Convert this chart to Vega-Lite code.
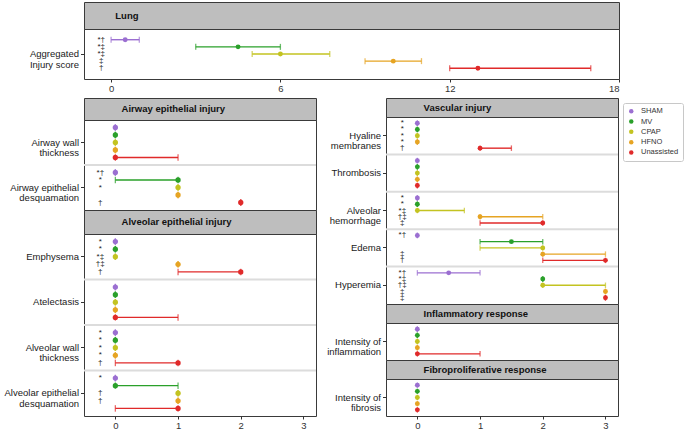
{
  "$schema": "https://vega.github.io/schema/vega-lite/v6.json",
  "padding": {"left": 3, "top": 1, "right": 2, "bottom": 0},
  "spacing": 3,
  "resolve": {"scale": {"yOffset": "independent"}},
  "datasets": {
    "lung": [
      {"item": "Aggregated|Injury score", "group": "SHAM", "mid": 0.5, "lo": 0, "hi": 1, "ann": "*†"},
      {"item": "Aggregated|Injury score", "group": "MV", "mid": 4.5, "lo": 3, "hi": 6, "ann": "*‡"},
      {"item": "Aggregated|Injury score", "group": "CPAP", "mid": 6, "lo": 5, "hi": 7.75, "ann": "*‡"},
      {"item": "Aggregated|Injury score", "group": "HFNO", "mid": 10, "lo": 9, "hi": 11, "ann": "‡"},
      {"item": "Aggregated|Injury score", "group": "Unassisted", "mid": 13, "lo": 12, "hi": 17, "ann": "†"}
    ],
    "airway": [
      {"item": "Airway wall|thickness", "group": "SHAM", "mid": 0, "lo": 0, "hi": 0, "ann": ""},
      {"item": "Airway wall|thickness", "group": "MV", "mid": 0, "lo": 0, "hi": 0, "ann": ""},
      {"item": "Airway wall|thickness", "group": "CPAP", "mid": 0, "lo": 0, "hi": 0, "ann": ""},
      {"item": "Airway wall|thickness", "group": "HFNO", "mid": 0, "lo": 0, "hi": 0, "ann": ""},
      {"item": "Airway wall|thickness", "group": "Unassisted", "mid": 0, "lo": 0, "hi": 1, "ann": ""},
      {"item": "Airway epithelial|desquamation", "group": "SHAM", "mid": 0, "lo": 0, "hi": 0, "ann": "*†"},
      {"item": "Airway epithelial|desquamation", "group": "MV", "mid": 1, "lo": 0, "hi": 1, "ann": "*"},
      {"item": "Airway epithelial|desquamation", "group": "CPAP", "mid": 1, "lo": 1, "hi": 1, "ann": "*"},
      {"item": "Airway epithelial|desquamation", "group": "HFNO", "mid": 1, "lo": 1, "hi": 1, "ann": ""},
      {"item": "Airway epithelial|desquamation", "group": "Unassisted", "mid": 2, "lo": 2, "hi": 2, "ann": "†"}
    ],
    "alveolar": [
      {"item": "Emphysema", "group": "SHAM", "mid": 0, "lo": 0, "hi": 0, "ann": "*"},
      {"item": "Emphysema", "group": "MV", "mid": 0, "lo": 0, "hi": 0, "ann": "*"},
      {"item": "Emphysema", "group": "CPAP", "mid": 0, "lo": 0, "hi": 0, "ann": "*‡"},
      {"item": "Emphysema", "group": "HFNO", "mid": 1, "lo": 1, "hi": 1, "ann": "†‡"},
      {"item": "Emphysema", "group": "Unassisted", "mid": 2, "lo": 1, "hi": 2, "ann": "†"},
      {"item": "Atelectasis", "group": "SHAM", "mid": 0, "lo": 0, "hi": 0, "ann": ""},
      {"item": "Atelectasis", "group": "MV", "mid": 0, "lo": 0, "hi": 0, "ann": ""},
      {"item": "Atelectasis", "group": "CPAP", "mid": 0, "lo": 0, "hi": 0, "ann": ""},
      {"item": "Atelectasis", "group": "HFNO", "mid": 0, "lo": 0, "hi": 0, "ann": ""},
      {"item": "Atelectasis", "group": "Unassisted", "mid": 0, "lo": 0, "hi": 1, "ann": ""},
      {"item": "Alveolar wall|thickness", "group": "SHAM", "mid": 0, "lo": 0, "hi": 0, "ann": "*"},
      {"item": "Alveolar wall|thickness", "group": "MV", "mid": 0, "lo": 0, "hi": 0, "ann": "*"},
      {"item": "Alveolar wall|thickness", "group": "CPAP", "mid": 0, "lo": 0, "hi": 0, "ann": "*"},
      {"item": "Alveolar wall|thickness", "group": "HFNO", "mid": 0, "lo": 0, "hi": 0, "ann": "*"},
      {"item": "Alveolar wall|thickness", "group": "Unassisted", "mid": 1, "lo": 0, "hi": 1, "ann": "†"},
      {"item": "Alveolar epithelial|desquamation", "group": "SHAM", "mid": 0, "lo": 0, "hi": 0, "ann": "*"},
      {"item": "Alveolar epithelial|desquamation", "group": "MV", "mid": 0, "lo": 0, "hi": 1, "ann": ""},
      {"item": "Alveolar epithelial|desquamation", "group": "CPAP", "mid": 1, "lo": 1, "hi": 1, "ann": "†"},
      {"item": "Alveolar epithelial|desquamation", "group": "HFNO", "mid": 1, "lo": 1, "hi": 1, "ann": "†"},
      {"item": "Alveolar epithelial|desquamation", "group": "Unassisted", "mid": 1, "lo": 0, "hi": 1, "ann": ""}
    ],
    "vascular": [
      {"item": "Hyaline|membranes", "group": "SHAM", "mid": 0, "lo": 0, "hi": 0, "ann": "*"},
      {"item": "Hyaline|membranes", "group": "MV", "mid": 0, "lo": 0, "hi": 0, "ann": "*"},
      {"item": "Hyaline|membranes", "group": "CPAP", "mid": 0, "lo": 0, "hi": 0, "ann": "*"},
      {"item": "Hyaline|membranes", "group": "HFNO", "mid": 0, "lo": 0, "hi": 0, "ann": "*"},
      {"item": "Hyaline|membranes", "group": "Unassisted", "mid": 1, "lo": 1, "hi": 1.5, "ann": "†"},
      {"item": "Thrombosis", "group": "SHAM", "mid": 0, "lo": 0, "hi": 0, "ann": ""},
      {"item": "Thrombosis", "group": "MV", "mid": 0, "lo": 0, "hi": 0, "ann": ""},
      {"item": "Thrombosis", "group": "CPAP", "mid": 0, "lo": 0, "hi": 0, "ann": ""},
      {"item": "Thrombosis", "group": "HFNO", "mid": 0, "lo": 0, "hi": 0, "ann": ""},
      {"item": "Thrombosis", "group": "Unassisted", "mid": 0, "lo": 0, "hi": 0, "ann": ""},
      {"item": "Alveolar|hemorrhage", "group": "SHAM", "mid": 0, "lo": 0, "hi": 0, "ann": "*"},
      {"item": "Alveolar|hemorrhage", "group": "MV", "mid": 0, "lo": 0, "hi": 0, "ann": "*"},
      {"item": "Alveolar|hemorrhage", "group": "CPAP", "mid": 0, "lo": 0, "hi": 0.75, "ann": "*‡"},
      {"item": "Alveolar|hemorrhage", "group": "HFNO", "mid": 1, "lo": 1, "hi": 2, "ann": "†‡"},
      {"item": "Alveolar|hemorrhage", "group": "Unassisted", "mid": 2, "lo": 1, "hi": 2, "ann": "‡"},
      {"item": "Edema", "group": "SHAM", "mid": 0, "lo": 0, "hi": 0, "ann": "*†"},
      {"item": "Edema", "group": "MV", "mid": 1.5, "lo": 1, "hi": 2, "ann": ""},
      {"item": "Edema", "group": "CPAP", "mid": 2, "lo": 1, "hi": 2, "ann": ""},
      {"item": "Edema", "group": "HFNO", "mid": 2, "lo": 2, "hi": 3, "ann": "‡"},
      {"item": "Edema", "group": "Unassisted", "mid": 3, "lo": 2, "hi": 3, "ann": "†"},
      {"item": "Hyperemia", "group": "SHAM", "mid": 0.5, "lo": 0, "hi": 1, "ann": "*†"},
      {"item": "Hyperemia", "group": "MV", "mid": 2, "lo": 2, "hi": 2, "ann": "*‡"},
      {"item": "Hyperemia", "group": "CPAP", "mid": 2, "lo": 2, "hi": 3, "ann": "†‡"},
      {"item": "Hyperemia", "group": "HFNO", "mid": 3, "lo": 3, "hi": 3, "ann": "‡"},
      {"item": "Hyperemia", "group": "Unassisted", "mid": 3, "lo": 3, "hi": 3, "ann": "‡"}
    ],
    "inflam": [
      {"item": "Intensity of|inflammation", "group": "SHAM", "mid": 0, "lo": 0, "hi": 0, "ann": ""},
      {"item": "Intensity of|inflammation", "group": "MV", "mid": 0, "lo": 0, "hi": 0, "ann": ""},
      {"item": "Intensity of|inflammation", "group": "CPAP", "mid": 0, "lo": 0, "hi": 0, "ann": ""},
      {"item": "Intensity of|inflammation", "group": "HFNO", "mid": 0, "lo": 0, "hi": 0, "ann": ""},
      {"item": "Intensity of|inflammation", "group": "Unassisted", "mid": 0, "lo": 0, "hi": 1, "ann": ""}
    ],
    "fibro": [
      {"item": "Intensity of|fibrosis", "group": "SHAM", "mid": 0, "lo": 0, "hi": 0, "ann": ""},
      {"item": "Intensity of|fibrosis", "group": "MV", "mid": 0, "lo": 0, "hi": 0, "ann": ""},
      {"item": "Intensity of|fibrosis", "group": "CPAP", "mid": 0, "lo": 0, "hi": 0, "ann": ""},
      {"item": "Intensity of|fibrosis", "group": "HFNO", "mid": 0, "lo": 0, "hi": 0, "ann": ""},
      {"item": "Intensity of|fibrosis", "group": "Unassisted", "mid": 0, "lo": 0, "hi": 0, "ann": ""}
    ]
  },
  "vconcat": [
    {
      "spacing": 0,
      "bounds": "flush",
      "resolve": {"scale": {"yOffset": "independent"}},
      "vconcat": [
        {
          "width": 535, "height": 27,
          "view": {"fill": "#bebebe"},
          "data": {"values": [{"t": "Lung"}]},
          "mark": {"type": "text", "align": "left", "baseline": "middle", "fontWeight": "bold", "fontSize": 9.5, "color": "#111111"},
          "encoding": {
            "x": {"datum": 0.15, "type": "quantitative", "scale": {"domain": [-0.96, 18], "nice": false, "zero": false}, "axis": null},
            "text": {"field": "t"}
          }
        },
        {
          "width": 535, "height": 50,
          "data": {"name": "lung"},
          "encoding": {"y": {"field": "item", "type": "nominal", "title": null, "scale": {"paddingInner": 0, "paddingOuter": 0}, "axis": {"minExtent": 80, "maxExtent": 80, "labelExpr": "split(datum.label, '|')"}}},
          "layer": [
            {
              "mark": {"type": "circle", "size": 24, "opacity": 1},
              "encoding": {
                "x": {"field": "mid", "type": "quantitative", "title": null, "scale": {"domain": [-0.96, 18], "nice": false, "zero": false}, "axis": {"values": [0, 6, 12, 18]}},
                "yOffset": {"field": "group", "type": "nominal", "sort": ["SHAM", "MV", "CPAP", "HFNO", "Unassisted"], "scale": {"domain": ["SHAM", "MV", "CPAP", "HFNO", "Unassisted"], "paddingInner": 0, "paddingOuter": 1.67}},
                "color": {"field": "group", "type": "nominal", "scale": {"domain": ["SHAM", "MV", "CPAP", "HFNO", "Unassisted"], "range": ["#9b6fd1", "#2aa02a", "#c3c321", "#e6a423", "#e02a2a"]}, "legend": {"title": null, "orient": "none", "legendX": 539, "legendY": 101, "symbolType": "circle", "symbolSize": 20, "symbolStrokeWidth": 0, "labelFontSize": 7.5, "labelColor": "#333333", "padding": 4.5, "strokeColor": "#c8c8c8", "cornerRadius": 2, "rowPadding": 1.3, "labelOffset": 6, "fillColor": "white"}}
              }
            },
            {
              "mark": {"type": "rule", "strokeWidth": 1.4},
              "encoding": {
                "x": {"field": "lo", "type": "quantitative", "title": null, "scale": {"domain": [-0.96, 18], "nice": false, "zero": false}, "axis": {"values": [0, 6, 12, 18]}},
                "x2": {"field": "hi"},
                "yOffset": {"field": "group", "type": "nominal", "sort": ["SHAM", "MV", "CPAP", "HFNO", "Unassisted"], "scale": {"domain": ["SHAM", "MV", "CPAP", "HFNO", "Unassisted"], "paddingInner": 0, "paddingOuter": 1.67}},
                "color": {"field": "group", "type": "nominal", "scale": {"domain": ["SHAM", "MV", "CPAP", "HFNO", "Unassisted"], "range": ["#9b6fd1", "#2aa02a", "#c3c321", "#e6a423", "#e02a2a"]}, "legend": null}
              }
            },
            {
              "mark": {"type": "tick", "orient": "vertical", "size": 6, "thickness": 1.3},
              "encoding": {
                "x": {"field": "lo", "type": "quantitative", "title": null, "scale": {"domain": [-0.96, 18], "nice": false, "zero": false}, "axis": {"values": [0, 6, 12, 18]}},
                "yOffset": {"field": "group", "type": "nominal", "sort": ["SHAM", "MV", "CPAP", "HFNO", "Unassisted"], "scale": {"domain": ["SHAM", "MV", "CPAP", "HFNO", "Unassisted"], "paddingInner": 0, "paddingOuter": 1.67}},
                "color": {"field": "group", "type": "nominal", "scale": {"domain": ["SHAM", "MV", "CPAP", "HFNO", "Unassisted"], "range": ["#9b6fd1", "#2aa02a", "#c3c321", "#e6a423", "#e02a2a"]}, "legend": null}
              }
            },
            {
              "mark": {"type": "tick", "orient": "vertical", "size": 6, "thickness": 1.3},
              "encoding": {
                "x": {"field": "hi", "type": "quantitative", "title": null, "scale": {"domain": [-0.96, 18], "nice": false, "zero": false}, "axis": {"values": [0, 6, 12, 18]}},
                "yOffset": {"field": "group", "type": "nominal", "sort": ["SHAM", "MV", "CPAP", "HFNO", "Unassisted"], "scale": {"domain": ["SHAM", "MV", "CPAP", "HFNO", "Unassisted"], "paddingInner": 0, "paddingOuter": 1.67}},
                "color": {"field": "group", "type": "nominal", "scale": {"domain": ["SHAM", "MV", "CPAP", "HFNO", "Unassisted"], "range": ["#9b6fd1", "#2aa02a", "#c3c321", "#e6a423", "#e02a2a"]}, "legend": null}
              }
            },
            {
              "transform": [{"filter": "datum.ann !== ''"}],
              "mark": {"type": "text", "fontSize": 8, "color": "#1a1a1a", "baseline": "middle"},
              "encoding": {
                "x": {"datum": -0.35, "type": "quantitative", "title": null, "scale": {"domain": [-0.96, 18], "nice": false, "zero": false}, "axis": {"values": [0, 6, 12, 18]}},
                "yOffset": {"field": "group", "type": "nominal", "sort": ["SHAM", "MV", "CPAP", "HFNO", "Unassisted"], "scale": {"domain": ["SHAM", "MV", "CPAP", "HFNO", "Unassisted"], "paddingInner": 0, "paddingOuter": 1.67}},
                "text": {"field": "ann"}
              }
            }
          ]
        }
      ]
    },
    {
      "spacing": 5,
      "resolve": {"scale": {"yOffset": "independent"}},
      "hconcat": [
        {
          "spacing": 0,
          "bounds": "flush",
          "resolve": {"scale": {"yOffset": "independent"}},
          "vconcat": [
            {
              "width": 232, "height": 22,
              "view": {"fill": "#bebebe"},
              "data": {"values": [{"t": "Airway epithelial injury"}]},
              "mark": {"type": "text", "align": "left", "baseline": "middle", "fontWeight": "bold", "fontSize": 9.5, "color": "#111111"},
              "encoding": {
                "x": {"datum": 0.1, "type": "quantitative", "scale": {"domain": [-0.5, 3.2], "nice": false, "zero": false}, "axis": null},
                "text": {"field": "t"}
              }
            },
            {
              "width": 232, "height": 90,
              "data": {"name": "airway"},
              "encoding": {"y": {"field": "item", "type": "nominal", "sort": ["Airway wall|thickness", "Airway epithelial|desquamation"], "title": null, "scale": {"paddingInner": 0, "paddingOuter": 0}, "axis": {"minExtent": 80, "maxExtent": 80, "labelExpr": "split(datum.label, '|')"}}},
              "layer": [
                {
                  "transform": [{"filter": "datum.group === 'SHAM' && datum.item !== 'Airway wall|thickness'"}],
                  "mark": {"type": "rule", "color": "#dcdcdc", "strokeWidth": 2},
                  "encoding": {"y": {"field": "item", "type": "nominal", "sort": ["Airway wall|thickness", "Airway epithelial|desquamation"], "bandPosition": 0, "title": null}}
                },
                {
                  "mark": {"type": "rule", "strokeWidth": 1.4},
                  "encoding": {
                    "x": {"field": "lo", "type": "quantitative", "title": null, "scale": {"domain": [-0.5, 3.2], "nice": false, "zero": false}, "axis": null},
                    "x2": {"field": "hi"},
                    "yOffset": {"field": "group", "type": "nominal", "sort": ["SHAM", "MV", "CPAP", "HFNO", "Unassisted"], "scale": {"domain": ["SHAM", "MV", "CPAP", "HFNO", "Unassisted"], "paddingInner": 0, "paddingOuter": 0.5}},
                    "color": {"field": "group", "type": "nominal", "scale": {"domain": ["SHAM", "MV", "CPAP", "HFNO", "Unassisted"], "range": ["#9b6fd1", "#2aa02a", "#c3c321", "#e6a423", "#e02a2a"]}, "legend": null}
                  }
                },
                {
                  "mark": {"type": "tick", "orient": "vertical", "size": 6.5, "thickness": 1.3},
                  "encoding": {
                    "x": {"field": "lo", "type": "quantitative", "title": null, "scale": {"domain": [-0.5, 3.2], "nice": false, "zero": false}, "axis": null},
                    "yOffset": {"field": "group", "type": "nominal", "sort": ["SHAM", "MV", "CPAP", "HFNO", "Unassisted"], "scale": {"domain": ["SHAM", "MV", "CPAP", "HFNO", "Unassisted"], "paddingInner": 0, "paddingOuter": 0.5}},
                    "color": {"field": "group", "type": "nominal", "scale": {"domain": ["SHAM", "MV", "CPAP", "HFNO", "Unassisted"], "range": ["#9b6fd1", "#2aa02a", "#c3c321", "#e6a423", "#e02a2a"]}, "legend": null}
                  }
                },
                {
                  "mark": {"type": "tick", "orient": "vertical", "size": 6.5, "thickness": 1.3},
                  "encoding": {
                    "x": {"field": "hi", "type": "quantitative", "title": null, "scale": {"domain": [-0.5, 3.2], "nice": false, "zero": false}, "axis": null},
                    "yOffset": {"field": "group", "type": "nominal", "sort": ["SHAM", "MV", "CPAP", "HFNO", "Unassisted"], "scale": {"domain": ["SHAM", "MV", "CPAP", "HFNO", "Unassisted"], "paddingInner": 0, "paddingOuter": 0.5}},
                    "color": {"field": "group", "type": "nominal", "scale": {"domain": ["SHAM", "MV", "CPAP", "HFNO", "Unassisted"], "range": ["#9b6fd1", "#2aa02a", "#c3c321", "#e6a423", "#e02a2a"]}, "legend": null}
                  }
                },
                {
                  "mark": {"type": "circle", "size": 28, "opacity": 1},
                  "encoding": {
                    "x": {"field": "mid", "type": "quantitative", "title": null, "scale": {"domain": [-0.5, 3.2], "nice": false, "zero": false}, "axis": null},
                    "yOffset": {"field": "group", "type": "nominal", "sort": ["SHAM", "MV", "CPAP", "HFNO", "Unassisted"], "scale": {"domain": ["SHAM", "MV", "CPAP", "HFNO", "Unassisted"], "paddingInner": 0, "paddingOuter": 0.5}},
                    "color": {"field": "group", "type": "nominal", "scale": {"domain": ["SHAM", "MV", "CPAP", "HFNO", "Unassisted"], "range": ["#9b6fd1", "#2aa02a", "#c3c321", "#e6a423", "#e02a2a"]}, "legend": null}
                  }
                },
                {
                  "transform": [{"filter": "datum.ann !== ''"}],
                  "mark": {"type": "text", "fontSize": 8, "color": "#1a1a1a", "baseline": "middle"},
                  "encoding": {
                    "x": {"datum": -0.24, "type": "quantitative", "title": null, "scale": {"domain": [-0.5, 3.2], "nice": false, "zero": false}, "axis": null},
                    "yOffset": {"field": "group", "type": "nominal", "sort": ["SHAM", "MV", "CPAP", "HFNO", "Unassisted"], "scale": {"domain": ["SHAM", "MV", "CPAP", "HFNO", "Unassisted"], "paddingInner": 0, "paddingOuter": 0.5}},
                    "text": {"field": "ann"}
                  }
                }
              ]
            },
            {
              "width": 232, "height": 24,
              "view": {"fill": "#bebebe"},
              "data": {"values": [{"t": "Alveolar epithelial injury"}]},
              "mark": {"type": "text", "align": "left", "baseline": "middle", "fontWeight": "bold", "fontSize": 9.5, "color": "#111111"},
              "encoding": {
                "x": {"datum": 0.1, "type": "quantitative", "scale": {"domain": [-0.5, 3.2], "nice": false, "zero": false}, "axis": null},
                "text": {"field": "t"}
              }
            },
            {
              "width": 232, "height": 182,
              "data": {"name": "alveolar"},
              "encoding": {"y": {"field": "item", "type": "nominal", "sort": ["Emphysema", "Atelectasis", "Alveolar wall|thickness", "Alveolar epithelial|desquamation"], "title": null, "scale": {"paddingInner": 0, "paddingOuter": 0}, "axis": {"minExtent": 80, "maxExtent": 80, "labelExpr": "split(datum.label, '|')"}}},
              "layer": [
                {
                  "transform": [{"filter": "datum.group === 'SHAM' && datum.item !== 'Emphysema'"}],
                  "mark": {"type": "rule", "color": "#dcdcdc", "strokeWidth": 2},
                  "encoding": {"y": {"field": "item", "type": "nominal", "sort": ["Emphysema", "Atelectasis", "Alveolar wall|thickness", "Alveolar epithelial|desquamation"], "bandPosition": 0, "title": null}}
                },
                {
                  "mark": {"type": "rule", "strokeWidth": 1.4},
                  "encoding": {
                    "x": {"field": "lo", "type": "quantitative", "title": null, "scale": {"domain": [-0.5, 3.2], "nice": false, "zero": false}, "axis": {"values": [0, 1, 2, 3]}},
                    "x2": {"field": "hi"},
                    "yOffset": {"field": "group", "type": "nominal", "sort": ["SHAM", "MV", "CPAP", "HFNO", "Unassisted"], "scale": {"domain": ["SHAM", "MV", "CPAP", "HFNO", "Unassisted"], "paddingInner": 0, "paddingOuter": 0.5}},
                    "color": {"field": "group", "type": "nominal", "scale": {"domain": ["SHAM", "MV", "CPAP", "HFNO", "Unassisted"], "range": ["#9b6fd1", "#2aa02a", "#c3c321", "#e6a423", "#e02a2a"]}, "legend": null}
                  }
                },
                {
                  "mark": {"type": "tick", "orient": "vertical", "size": 6.5, "thickness": 1.3},
                  "encoding": {
                    "x": {"field": "lo", "type": "quantitative", "title": null, "scale": {"domain": [-0.5, 3.2], "nice": false, "zero": false}, "axis": {"values": [0, 1, 2, 3]}},
                    "yOffset": {"field": "group", "type": "nominal", "sort": ["SHAM", "MV", "CPAP", "HFNO", "Unassisted"], "scale": {"domain": ["SHAM", "MV", "CPAP", "HFNO", "Unassisted"], "paddingInner": 0, "paddingOuter": 0.5}},
                    "color": {"field": "group", "type": "nominal", "scale": {"domain": ["SHAM", "MV", "CPAP", "HFNO", "Unassisted"], "range": ["#9b6fd1", "#2aa02a", "#c3c321", "#e6a423", "#e02a2a"]}, "legend": null}
                  }
                },
                {
                  "mark": {"type": "tick", "orient": "vertical", "size": 6.5, "thickness": 1.3},
                  "encoding": {
                    "x": {"field": "hi", "type": "quantitative", "title": null, "scale": {"domain": [-0.5, 3.2], "nice": false, "zero": false}, "axis": {"values": [0, 1, 2, 3]}},
                    "yOffset": {"field": "group", "type": "nominal", "sort": ["SHAM", "MV", "CPAP", "HFNO", "Unassisted"], "scale": {"domain": ["SHAM", "MV", "CPAP", "HFNO", "Unassisted"], "paddingInner": 0, "paddingOuter": 0.5}},
                    "color": {"field": "group", "type": "nominal", "scale": {"domain": ["SHAM", "MV", "CPAP", "HFNO", "Unassisted"], "range": ["#9b6fd1", "#2aa02a", "#c3c321", "#e6a423", "#e02a2a"]}, "legend": null}
                  }
                },
                {
                  "mark": {"type": "circle", "size": 28, "opacity": 1},
                  "encoding": {
                    "x": {"field": "mid", "type": "quantitative", "title": null, "scale": {"domain": [-0.5, 3.2], "nice": false, "zero": false}, "axis": {"values": [0, 1, 2, 3]}},
                    "yOffset": {"field": "group", "type": "nominal", "sort": ["SHAM", "MV", "CPAP", "HFNO", "Unassisted"], "scale": {"domain": ["SHAM", "MV", "CPAP", "HFNO", "Unassisted"], "paddingInner": 0, "paddingOuter": 0.5}},
                    "color": {"field": "group", "type": "nominal", "scale": {"domain": ["SHAM", "MV", "CPAP", "HFNO", "Unassisted"], "range": ["#9b6fd1", "#2aa02a", "#c3c321", "#e6a423", "#e02a2a"]}, "legend": null}
                  }
                },
                {
                  "transform": [{"filter": "datum.ann !== ''"}],
                  "mark": {"type": "text", "fontSize": 8, "color": "#1a1a1a", "baseline": "middle"},
                  "encoding": {
                    "x": {"datum": -0.24, "type": "quantitative", "title": null, "scale": {"domain": [-0.5, 3.2], "nice": false, "zero": false}, "axis": {"values": [0, 1, 2, 3]}},
                    "yOffset": {"field": "group", "type": "nominal", "sort": ["SHAM", "MV", "CPAP", "HFNO", "Unassisted"], "scale": {"domain": ["SHAM", "MV", "CPAP", "HFNO", "Unassisted"], "paddingInner": 0, "paddingOuter": 0.5}},
                    "text": {"field": "ann"}
                  }
                }
              ]
            }
          ]
        },
        {
          "spacing": 0,
          "bounds": "flush",
          "resolve": {"scale": {"yOffset": "independent"}},
          "vconcat": [
            {
              "width": 232, "height": 19,
              "view": {"fill": "#bebebe"},
              "data": {"values": [{"t": "Vascular injury"}]},
              "mark": {"type": "text", "align": "left", "baseline": "middle", "fontWeight": "bold", "fontSize": 9.5, "color": "#111111"},
              "encoding": {
                "x": {"datum": 0.1, "type": "quantitative", "scale": {"domain": [-0.5, 3.2], "nice": false, "zero": false}, "axis": null},
                "text": {"field": "t"}
              }
            },
            {
              "width": 232, "height": 187,
              "data": {"name": "vascular"},
              "encoding": {"y": {"field": "item", "type": "nominal", "sort": ["Hyaline|membranes", "Thrombosis", "Alveolar|hemorrhage", "Edema", "Hyperemia"], "title": null, "scale": {"paddingInner": 0, "paddingOuter": 0}, "axis": {"minExtent": 62, "maxExtent": 62, "labelExpr": "split(datum.label, '|')"}}},
              "layer": [
                {
                  "transform": [{"filter": "datum.group === 'SHAM' && datum.item !== 'Hyaline|membranes'"}],
                  "mark": {"type": "rule", "color": "#dcdcdc", "strokeWidth": 2},
                  "encoding": {"y": {"field": "item", "type": "nominal", "sort": ["Hyaline|membranes", "Thrombosis", "Alveolar|hemorrhage", "Edema", "Hyperemia"], "bandPosition": 0, "title": null}}
                },
                {
                  "mark": {"type": "rule", "strokeWidth": 1.4},
                  "encoding": {
                    "x": {"field": "lo", "type": "quantitative", "title": null, "scale": {"domain": [-0.5, 3.2], "nice": false, "zero": false}, "axis": null},
                    "x2": {"field": "hi"},
                    "yOffset": {"field": "group", "type": "nominal", "sort": ["SHAM", "MV", "CPAP", "HFNO", "Unassisted"], "scale": {"domain": ["SHAM", "MV", "CPAP", "HFNO", "Unassisted"], "paddingInner": 0, "paddingOuter": 0.5}},
                    "color": {"field": "group", "type": "nominal", "scale": {"domain": ["SHAM", "MV", "CPAP", "HFNO", "Unassisted"], "range": ["#9b6fd1", "#2aa02a", "#c3c321", "#e6a423", "#e02a2a"]}, "legend": null}
                  }
                },
                {
                  "mark": {"type": "tick", "orient": "vertical", "size": 5.5, "thickness": 1.3},
                  "encoding": {
                    "x": {"field": "lo", "type": "quantitative", "title": null, "scale": {"domain": [-0.5, 3.2], "nice": false, "zero": false}, "axis": null},
                    "yOffset": {"field": "group", "type": "nominal", "sort": ["SHAM", "MV", "CPAP", "HFNO", "Unassisted"], "scale": {"domain": ["SHAM", "MV", "CPAP", "HFNO", "Unassisted"], "paddingInner": 0, "paddingOuter": 0.5}},
                    "color": {"field": "group", "type": "nominal", "scale": {"domain": ["SHAM", "MV", "CPAP", "HFNO", "Unassisted"], "range": ["#9b6fd1", "#2aa02a", "#c3c321", "#e6a423", "#e02a2a"]}, "legend": null}
                  }
                },
                {
                  "mark": {"type": "tick", "orient": "vertical", "size": 5.5, "thickness": 1.3},
                  "encoding": {
                    "x": {"field": "hi", "type": "quantitative", "title": null, "scale": {"domain": [-0.5, 3.2], "nice": false, "zero": false}, "axis": null},
                    "yOffset": {"field": "group", "type": "nominal", "sort": ["SHAM", "MV", "CPAP", "HFNO", "Unassisted"], "scale": {"domain": ["SHAM", "MV", "CPAP", "HFNO", "Unassisted"], "paddingInner": 0, "paddingOuter": 0.5}},
                    "color": {"field": "group", "type": "nominal", "scale": {"domain": ["SHAM", "MV", "CPAP", "HFNO", "Unassisted"], "range": ["#9b6fd1", "#2aa02a", "#c3c321", "#e6a423", "#e02a2a"]}, "legend": null}
                  }
                },
                {
                  "mark": {"type": "circle", "size": 24, "opacity": 1},
                  "encoding": {
                    "x": {"field": "mid", "type": "quantitative", "title": null, "scale": {"domain": [-0.5, 3.2], "nice": false, "zero": false}, "axis": null},
                    "yOffset": {"field": "group", "type": "nominal", "sort": ["SHAM", "MV", "CPAP", "HFNO", "Unassisted"], "scale": {"domain": ["SHAM", "MV", "CPAP", "HFNO", "Unassisted"], "paddingInner": 0, "paddingOuter": 0.5}},
                    "color": {"field": "group", "type": "nominal", "scale": {"domain": ["SHAM", "MV", "CPAP", "HFNO", "Unassisted"], "range": ["#9b6fd1", "#2aa02a", "#c3c321", "#e6a423", "#e02a2a"]}, "legend": null}
                  }
                },
                {
                  "transform": [{"filter": "datum.ann !== ''"}],
                  "mark": {"type": "text", "fontSize": 8, "color": "#1a1a1a", "baseline": "middle"},
                  "encoding": {
                    "x": {"datum": -0.24, "type": "quantitative", "title": null, "scale": {"domain": [-0.5, 3.2], "nice": false, "zero": false}, "axis": null},
                    "yOffset": {"field": "group", "type": "nominal", "sort": ["SHAM", "MV", "CPAP", "HFNO", "Unassisted"], "scale": {"domain": ["SHAM", "MV", "CPAP", "HFNO", "Unassisted"], "paddingInner": 0, "paddingOuter": 0.5}},
                    "text": {"field": "ann"}
                  }
                }
              ]
            },
            {
              "width": 232, "height": 19,
              "view": {"fill": "#bebebe"},
              "data": {"values": [{"t": "Inflammatory response"}]},
              "mark": {"type": "text", "align": "left", "baseline": "middle", "fontWeight": "bold", "fontSize": 9.5, "color": "#111111"},
              "encoding": {
                "x": {"datum": 0.1, "type": "quantitative", "scale": {"domain": [-0.5, 3.2], "nice": false, "zero": false}, "axis": null},
                "text": {"field": "t"}
              }
            },
            {
              "width": 232, "height": 37,
              "data": {"name": "inflam"},
              "encoding": {"y": {"field": "item", "type": "nominal", "title": null, "scale": {"paddingInner": 0, "paddingOuter": 0}, "axis": {"minExtent": 62, "maxExtent": 62, "labelExpr": "split(datum.label, '|')"}}},
              "layer": [
                {
                  "mark": {"type": "rule", "strokeWidth": 1.4},
                  "encoding": {
                    "x": {"field": "lo", "type": "quantitative", "title": null, "scale": {"domain": [-0.5, 3.2], "nice": false, "zero": false}, "axis": null},
                    "x2": {"field": "hi"},
                    "yOffset": {"field": "group", "type": "nominal", "sort": ["SHAM", "MV", "CPAP", "HFNO", "Unassisted"], "scale": {"domain": ["SHAM", "MV", "CPAP", "HFNO", "Unassisted"], "paddingInner": 0, "paddingOuter": 0.5}},
                    "color": {"field": "group", "type": "nominal", "scale": {"domain": ["SHAM", "MV", "CPAP", "HFNO", "Unassisted"], "range": ["#9b6fd1", "#2aa02a", "#c3c321", "#e6a423", "#e02a2a"]}, "legend": null}
                  }
                },
                {
                  "mark": {"type": "tick", "orient": "vertical", "size": 5.5, "thickness": 1.3},
                  "encoding": {
                    "x": {"field": "lo", "type": "quantitative", "title": null, "scale": {"domain": [-0.5, 3.2], "nice": false, "zero": false}, "axis": null},
                    "yOffset": {"field": "group", "type": "nominal", "sort": ["SHAM", "MV", "CPAP", "HFNO", "Unassisted"], "scale": {"domain": ["SHAM", "MV", "CPAP", "HFNO", "Unassisted"], "paddingInner": 0, "paddingOuter": 0.5}},
                    "color": {"field": "group", "type": "nominal", "scale": {"domain": ["SHAM", "MV", "CPAP", "HFNO", "Unassisted"], "range": ["#9b6fd1", "#2aa02a", "#c3c321", "#e6a423", "#e02a2a"]}, "legend": null}
                  }
                },
                {
                  "mark": {"type": "tick", "orient": "vertical", "size": 5.5, "thickness": 1.3},
                  "encoding": {
                    "x": {"field": "hi", "type": "quantitative", "title": null, "scale": {"domain": [-0.5, 3.2], "nice": false, "zero": false}, "axis": null},
                    "yOffset": {"field": "group", "type": "nominal", "sort": ["SHAM", "MV", "CPAP", "HFNO", "Unassisted"], "scale": {"domain": ["SHAM", "MV", "CPAP", "HFNO", "Unassisted"], "paddingInner": 0, "paddingOuter": 0.5}},
                    "color": {"field": "group", "type": "nominal", "scale": {"domain": ["SHAM", "MV", "CPAP", "HFNO", "Unassisted"], "range": ["#9b6fd1", "#2aa02a", "#c3c321", "#e6a423", "#e02a2a"]}, "legend": null}
                  }
                },
                {
                  "mark": {"type": "circle", "size": 24, "opacity": 1},
                  "encoding": {
                    "x": {"field": "mid", "type": "quantitative", "title": null, "scale": {"domain": [-0.5, 3.2], "nice": false, "zero": false}, "axis": null},
                    "yOffset": {"field": "group", "type": "nominal", "sort": ["SHAM", "MV", "CPAP", "HFNO", "Unassisted"], "scale": {"domain": ["SHAM", "MV", "CPAP", "HFNO", "Unassisted"], "paddingInner": 0, "paddingOuter": 0.5}},
                    "color": {"field": "group", "type": "nominal", "scale": {"domain": ["SHAM", "MV", "CPAP", "HFNO", "Unassisted"], "range": ["#9b6fd1", "#2aa02a", "#c3c321", "#e6a423", "#e02a2a"]}, "legend": null}
                  }
                }
              ]
            },
            {
              "width": 232, "height": 19,
              "view": {"fill": "#bebebe"},
              "data": {"values": [{"t": "Fibroproliferative response"}]},
              "mark": {"type": "text", "align": "left", "baseline": "middle", "fontWeight": "bold", "fontSize": 9.5, "color": "#111111"},
              "encoding": {
                "x": {"datum": 0.1, "type": "quantitative", "scale": {"domain": [-0.5, 3.2], "nice": false, "zero": false}, "axis": null},
                "text": {"field": "t"}
              }
            },
            {
              "width": 232, "height": 37,
              "data": {"name": "fibro"},
              "encoding": {"y": {"field": "item", "type": "nominal", "title": null, "scale": {"paddingInner": 0, "paddingOuter": 0}, "axis": {"minExtent": 62, "maxExtent": 62, "labelExpr": "split(datum.label, '|')"}}},
              "layer": [
                {
                  "mark": {"type": "rule", "strokeWidth": 1.4},
                  "encoding": {
                    "x": {"field": "lo", "type": "quantitative", "title": null, "scale": {"domain": [-0.5, 3.2], "nice": false, "zero": false}, "axis": {"values": [0, 1, 2, 3]}},
                    "x2": {"field": "hi"},
                    "yOffset": {"field": "group", "type": "nominal", "sort": ["SHAM", "MV", "CPAP", "HFNO", "Unassisted"], "scale": {"domain": ["SHAM", "MV", "CPAP", "HFNO", "Unassisted"], "paddingInner": 0, "paddingOuter": 0.5}},
                    "color": {"field": "group", "type": "nominal", "scale": {"domain": ["SHAM", "MV", "CPAP", "HFNO", "Unassisted"], "range": ["#9b6fd1", "#2aa02a", "#c3c321", "#e6a423", "#e02a2a"]}, "legend": null}
                  }
                },
                {
                  "mark": {"type": "tick", "orient": "vertical", "size": 5.5, "thickness": 1.3},
                  "encoding": {
                    "x": {"field": "lo", "type": "quantitative", "title": null, "scale": {"domain": [-0.5, 3.2], "nice": false, "zero": false}, "axis": {"values": [0, 1, 2, 3]}},
                    "yOffset": {"field": "group", "type": "nominal", "sort": ["SHAM", "MV", "CPAP", "HFNO", "Unassisted"], "scale": {"domain": ["SHAM", "MV", "CPAP", "HFNO", "Unassisted"], "paddingInner": 0, "paddingOuter": 0.5}},
                    "color": {"field": "group", "type": "nominal", "scale": {"domain": ["SHAM", "MV", "CPAP", "HFNO", "Unassisted"], "range": ["#9b6fd1", "#2aa02a", "#c3c321", "#e6a423", "#e02a2a"]}, "legend": null}
                  }
                },
                {
                  "mark": {"type": "circle", "size": 24, "opacity": 1},
                  "encoding": {
                    "x": {"field": "mid", "type": "quantitative", "title": null, "scale": {"domain": [-0.5, 3.2], "nice": false, "zero": false}, "axis": {"values": [0, 1, 2, 3]}},
                    "yOffset": {"field": "group", "type": "nominal", "sort": ["SHAM", "MV", "CPAP", "HFNO", "Unassisted"], "scale": {"domain": ["SHAM", "MV", "CPAP", "HFNO", "Unassisted"], "paddingInner": 0, "paddingOuter": 0.5}},
                    "color": {"field": "group", "type": "nominal", "scale": {"domain": ["SHAM", "MV", "CPAP", "HFNO", "Unassisted"], "range": ["#9b6fd1", "#2aa02a", "#c3c321", "#e6a423", "#e02a2a"]}, "legend": null}
                  }
                }
              ]
            }
          ]
        }
      ]
    }
  ],
  "config": {
    "font": "Liberation Sans",
    "view": {"stroke": "#3a3a3a", "strokeWidth": 1},
    "axis": {"domain": false, "grid": false, "labelFont": "Liberation Sans", "labelFontSize": 9.5, "labelColor": "#1a1a1a", "tickColor": "#333333", "tickSize": 3, "labelPadding": 1.5},
    "axisY": {"labelLineHeight": 10.5, "tickSize": 3.5, "labelPadding": 2},
    "axisX": {"labelColor": "#333333"},
    "legend": {"labelFont": "Liberation Sans"}
  }
}
